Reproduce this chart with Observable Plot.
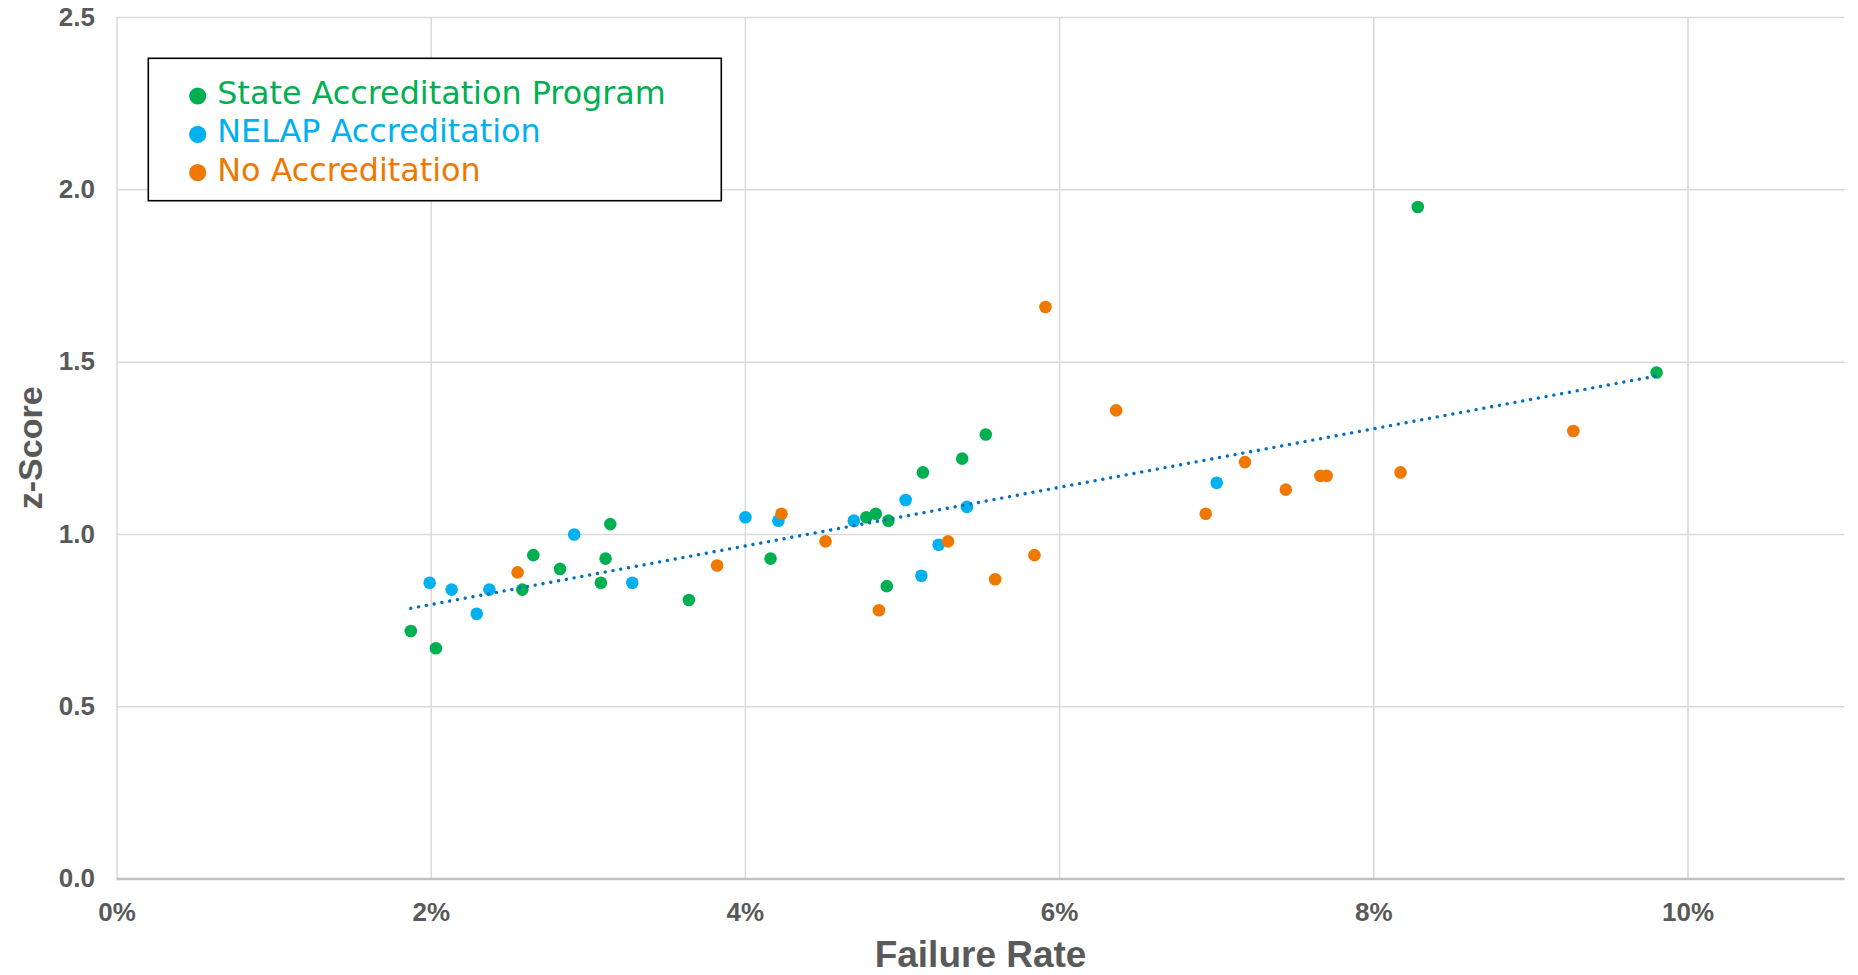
<!DOCTYPE html>
<html>
<head>
<meta charset="utf-8">
<script src="https://cdn.jsdelivr.net/npm/d3@7"></script>
<script src="https://cdn.jsdelivr.net/npm/@observablehq/plot@0.6"></script>
<style>
  html, body { margin: 0; padding: 0; background: #fff; }
  #chart svg { display: block; }
</style>
</head>
<body>
<div id="chart"></div>
<script>
// ---- data (x = failure rate in %, y = z-score) ----
const seriesNames = ["State Accreditation Program", "NELAP Accreditation", "No Accreditation"];
const seriesColors = ["#00B050", "#00B0F0", "#EE7800"];

const stateX = [1.87, 2.03, 2.58, 2.65, 2.82, 3.08, 3.11, 3.14, 3.64, 4.16, 4.77, 4.83, 4.90, 4.91, 5.13, 5.38, 5.53, 8.28, 9.80];
const stateY = [0.72, 0.67, 0.84, 0.94, 0.90, 0.86, 0.93, 1.03, 0.81, 0.93, 1.05, 1.06, 0.85, 1.04, 1.18, 1.22, 1.29, 1.95, 1.47];

const nelapX = [1.99, 2.13, 2.29, 2.37, 2.91, 3.28, 4.00, 4.21, 4.69, 5.02, 5.12, 5.23, 5.41, 7.00];
const nelapY = [0.86, 0.84, 0.77, 0.84, 1.00, 0.86, 1.05, 1.04, 1.04, 1.10, 0.88, 0.97, 1.08, 1.15];

const noneX = [2.55, 3.82, 4.23, 4.51, 4.85, 5.29, 5.59, 5.84, 5.91, 6.36, 6.93, 7.18, 7.44, 7.66, 7.70, 8.17, 9.27];
const noneY = [0.89, 0.91, 1.06, 0.98, 0.78, 0.98, 0.87, 0.94, 1.66, 1.36, 1.06, 1.21, 1.13, 1.17, 1.17, 1.18, 1.30];

const xTicks = [0, 2, 4, 6, 8, 10];
const yTicks = [0, 0.5, 1.0, 1.5, 2.0, 2.5];
const xTitle = "Failure Rate";
const yTitle = "z-Score";

// ---- build table ----
const toRows = (xs, ys, s) => xs.map((x, i) => ({x, y: ys[i], series: seriesNames[s]}));
const stateRows = toRows(stateX, stateY, 0);
const nelapRows = toRows(nelapX, nelapY, 1);
const noneRows = toRows(noneX, noneY, 2);
const all = [...stateRows, ...nelapRows, ...noneRows];
const drawOrder = [...nelapRows, ...stateRows, ...noneRows];

const W = 1858, H = 975;
const mL = 116.5, mR = 13.4, mT = 17, mB = 96.4;
const tickFont = "'Liberation Sans', Arial, Helvetica, sans-serif";

const svg = Plot.plot({
  width: W, height: H,
  marginLeft: mL, marginRight: mR, marginTop: mT, marginBottom: mB,
  style: {fontFamily: tickFont, fontSize: "26px", background: "#fff", overflow: "visible"},
  x: {domain: [0, 11], label: null},
  y: {domain: [0, 2.5], label: null},
  color: {domain: seriesNames, range: seriesColors},
  marks: [
    Plot.gridX(xTicks, {stroke: "#D9D9D9", strokeOpacity: 1, strokeWidth: 1.5}),
    Plot.gridY(yTicks, {stroke: "#D9D9D9", strokeOpacity: 1, strokeWidth: 1.5}),
    Plot.ruleY([0], {stroke: "#BFBFBF", strokeWidth: 2.5}),
    Plot.axisX(xTicks, {tickSize: 0, tickPadding: 23, tickFormat: d => d + "%", fontSize: 26, fontWeight: "bold", fill: "#595959", label: null}),
    Plot.axisY(yTicks, {tickSize: 0, tickPadding: 22, tickFormat: d3.format(".1f"), fontSize: 26, fontWeight: "bold", fill: "#595959", label: null}),
    Plot.dot(drawOrder, {x: "x", y: "y", fill: "series", r: 6.3, stroke: "none"}),
    Plot.linearRegressionY(all, {x: "x", y: "y", ci: 0, stroke: "#0070C0", strokeWidth: 3.4, strokeDasharray: "0.01 7.9", strokeLinecap: "round"})
  ]
});

document.getElementById("chart").appendChild(svg);

const root = d3.select(svg);
root.selectAll('g[aria-label="x-axis tick label"]').attr("font-size", 26);
root.selectAll('g[aria-label="y-axis tick label"]').attr("font-size", 26);

// ---- axis titles and legend ----
const sx = svg.scale("x"), sy = svg.scale("y");
const cx = (sx.range[0] + sx.range[1]) / 2;
const cy = (sy.range[0] + sy.range[1]) / 2;

root.append("text")
  .attr("x", cx).attr("y", H - 8)
  .attr("text-anchor", "middle")
  .attr("font-family", tickFont).attr("font-weight", "bold").attr("font-size", 37)
  .attr("fill", "#595959")
  .text(xTitle);

root.append("text")
  .attr("transform", `translate(42,${cy}) rotate(-90)`)
  .attr("text-anchor", "middle")
  .attr("font-family", tickFont).attr("font-weight", "bold").attr("font-size", 34)
  .attr("fill", "#595959")
  .text(yTitle);

const lg = root.append("g").attr("text-anchor", "start");
lg.append("rect")
  .attr("x", 148.3).attr("y", 58.3).attr("width", 573).attr("height", 142.4)
  .attr("fill", "#fff").attr("stroke", "#000").attr("stroke-width", 1.6);
seriesNames.forEach((name, i) => {
  const rowY = 96 + i * 38.3;
  lg.append("circle").attr("cx", 197.7).attr("cy", rowY).attr("r", 8.6).attr("fill", seriesColors[i]);
  lg.append("text")
    .attr("x", 217.3).attr("y", rowY + 8)
    .attr("text-anchor", "start")
    .attr("font-family", "'DejaVu Sans', Verdana, sans-serif").attr("font-size", 31.8)
    .attr("fill", seriesColors[i])
    .text(name);
});
</script>
</body>
</html>
